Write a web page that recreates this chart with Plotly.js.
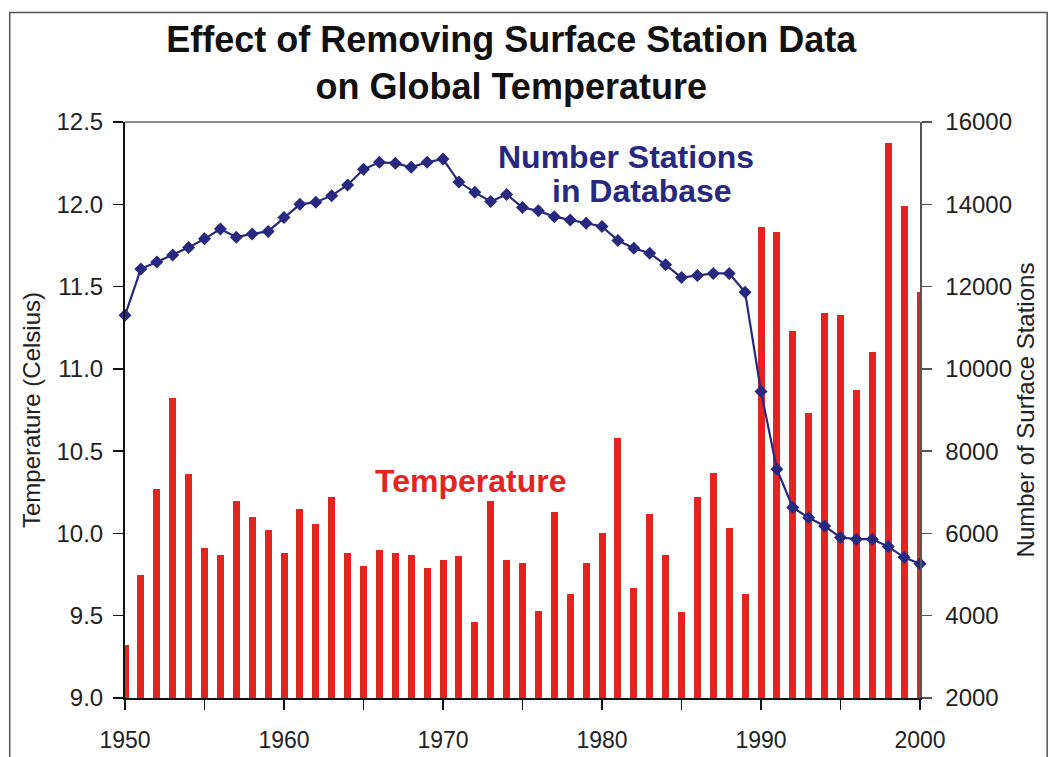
<!DOCTYPE html>
<html>
<head>
<meta charset="utf-8">
<script src="https://cdn.plot.ly/plotly-3.0.1.min.js"></script>
<style>
  html, body { margin: 0; padding: 0; background: #ffffff; }
  #chart { width: 1052px; height: 757px; }
</style>
</head>
<body>
<div id="chart"></div>
<script>
// ---- data ----
const years = [1950,1951,1952,1953,1954,1955,1956,1957,1958,1959,
               1960,1961,1962,1963,1964,1965,1966,1967,1968,1969,
               1970,1971,1972,1973,1974,1975,1976,1977,1978,1979,
               1980,1981,1982,1983,1984,1985,1986,1987,1988,1989,
               1990,1991,1992,1993,1994,1995,1996,1997,1998,1999,2000];

const temperature = [9.32,9.75,10.27,10.82,10.36,9.91,9.87,10.20,10.10,10.02,
                     9.88,10.15,10.06,10.22,9.88,9.80,9.90,9.88,9.87,9.79,
                     9.84,9.86,9.46,10.20,9.84,9.82,9.53,10.13,9.63,9.82,
                     10.00,10.58,9.67,10.12,9.87,9.52,10.22,10.37,10.03,9.63,
                     11.86,11.83,11.23,10.73,11.34,11.33,10.87,11.10,12.37,11.99,11.47];

const stations = [11300,12430,12600,12770,12950,13160,13400,13200,13280,13340,
                  13680,14000,14050,14210,14470,14850,15020,15000,14900,15020,
                  15100,14540,14290,14070,14240,13920,13840,13700,13620,13540,
                  13460,13120,12930,12810,12530,12220,12270,12320,12320,11860,
                  9450,7560,6630,6380,6180,5900,5860,5860,5680,5420,5260];

const xTickVals = [1950,1955,1960,1965,1970,1975,1980,1985,1990,1995,2000];
const xTickText = ['1950','','1960','','1970','','1980','','1990','','2000'];

const chartTitle = 'Effect of Removing Surface Station Data<br>on Global Temperature';
const leftTitle = 'Temperature (Celsius)';
const rightTitle = 'Number of Surface Stations';
const stationsLabel1 = 'Number Stations';
const stationsLabel2 = 'in Database';
const tempLabel = 'Temperature';

// ---- styling ----
const RED = '#e4241f';
const NAVY = '#27287f';
const FONT = '"Liberation Sans", Arial, Helvetica, sans-serif';
const TICKCOL = '#222222';

const traces = [
  {
    type: 'bar',
    x: years,
    y: temperature,
    width: 0.44,
    marker: { color: RED, line: { width: 0 } },
    xaxis: 'x', yaxis: 'y',
    hoverinfo: 'x+y',
    showlegend: false
  },
  {
    type: 'scatter',
    mode: 'lines+markers',
    x: years,
    y: stations,
    line: { color: NAVY, width: 2.2 },
    marker: { symbol: 'diamond', size: 10, color: NAVY },
    cliponaxis: false,
    xaxis: 'x', yaxis: 'y2',
    showlegend: false
  }
];

const layout = {
  width: 1052,
  height: 757,
  paper_bgcolor: '#ffffff',
  plot_bgcolor: '#ffffff',
  margin: { l: 125, r: 132, t: 122, b: 59, pad: 0 },
  font: { family: FONT, color: TICKCOL },
  showlegend: false,
  bargap: 0,
  title: {
    text: chartTitle,
    font: { family: FONT, size: 36, color: '#111111', weight: 'bold' },
    x: 0.486, xref: 'container', xanchor: 'center',
    y: 0.931, yref: 'container', yanchor: 'top'
  },
  xaxis: {
    range: [1950, 2000],
    tickmode: 'array', tickvals: xTickVals, ticktext: xTickText,
    ticks: 'outside', ticklen: 10, tickwidth: 1.5, tickcolor: '#111',
    ticklabelstandoff: 10,
    showline: true, linecolor: '#111', linewidth: 2,
    showgrid: false, zeroline: false,
    tickfont: { family: FONT, size: 23, color: TICKCOL },
    fixedrange: true
  },
  xaxis2: {
    overlaying: 'x', anchor: 'y', side: 'bottom',
    range: [1950, 2000],
    tickmode: 'array', tickvals: xTickVals,
    ticks: 'inside', ticklen: 10, tickwidth: 1.5, tickcolor: '#111',
    showticklabels: false, showline: false, showgrid: false, zeroline: false
  },
  yaxis: {
    range: [9, 12.5], dtick: 0.5, tick0: 9, tickformat: '.1f',
    ticks: 'outside', ticklen: 10, tickwidth: 1.5, tickcolor: '#111',
    ticklabelstandoff: 5,
    showline: true, linecolor: '#111', linewidth: 2,
    showgrid: false, zeroline: false,
    tickfont: { family: FONT, size: 24, color: TICKCOL },
    title: { text: leftTitle, font: { family: FONT, size: 24, color: TICKCOL }, standoff: 9 }
  },
  yaxis2: {
    overlaying: 'y', side: 'right', anchor: 'x',
    range: [2000, 16000], dtick: 2000, tick0: 2000, tickformat: 'd',
    ticks: 'outside', ticklen: 10, tickwidth: 1.5, tickcolor: '#555',
    ticklabelstandoff: 9,
    showline: true, linecolor: '#555', linewidth: 1.5,
    showgrid: false, zeroline: false,
    tickfont: { family: FONT, size: 24, color: TICKCOL },
    title: { text: rightTitle, font: { family: FONT, size: 24, color: TICKCOL }, standoff: 4 }
  },
  yaxis3: {
    overlaying: 'y', side: 'left', anchor: 'x',
    range: [9, 12.5], dtick: 0.5, tick0: 9,
    ticks: 'inside', ticklen: 10, tickwidth: 1.5, tickcolor: '#111',
    showticklabels: false, showline: false, showgrid: false, zeroline: false
  },
  yaxis4: {
    overlaying: 'y', side: 'right', anchor: 'x',
    range: [2000, 16000], dtick: 2000, tick0: 2000,
    ticks: 'inside', ticklen: 10, tickwidth: 1.5, tickcolor: '#555',
    showticklabels: false, showline: false, showgrid: false, zeroline: false
  },
  shapes: [
    { type: 'line', xref: 'paper', yref: 'paper', x0: 0, x1: 1, y0: 1, y1: 1,
      line: { color: '#8a8a8a', width: 2 } },
    { type: 'rect', xref: 'paper', yref: 'paper',
      x0: -0.145, x1: 1.16, y0: -0.11, y1: 1.19,
      line: { color: '#555', width: 1.5 }, fillcolor: 'rgba(0,0,0,0)', layer: 'above' }
  ],
  annotations: [
    { text: stationsLabel1, xref: 'paper', yref: 'paper', x: 0.630, y: 0.939,
      xanchor: 'center', yanchor: 'middle', showarrow: false,
      font: { family: FONT, size: 32, color: NAVY, weight: 'bold' } },
    { text: stationsLabel2, xref: 'paper', yref: 'paper', x: 0.650, y: 0.880,
      xanchor: 'center', yanchor: 'middle', showarrow: false,
      font: { family: FONT, size: 32, color: NAVY, weight: 'bold' } },
    { text: tempLabel, xref: 'paper', yref: 'paper', x: 0.434, y: 0.377,
      xanchor: 'center', yanchor: 'middle', showarrow: false,
      font: { family: FONT, size: 32, color: RED, weight: 'bold' } }
  ]
};

Plotly.newPlot('chart', traces, layout, { displayModeBar: false, staticPlot: true });
</script>
</body>
</html>
